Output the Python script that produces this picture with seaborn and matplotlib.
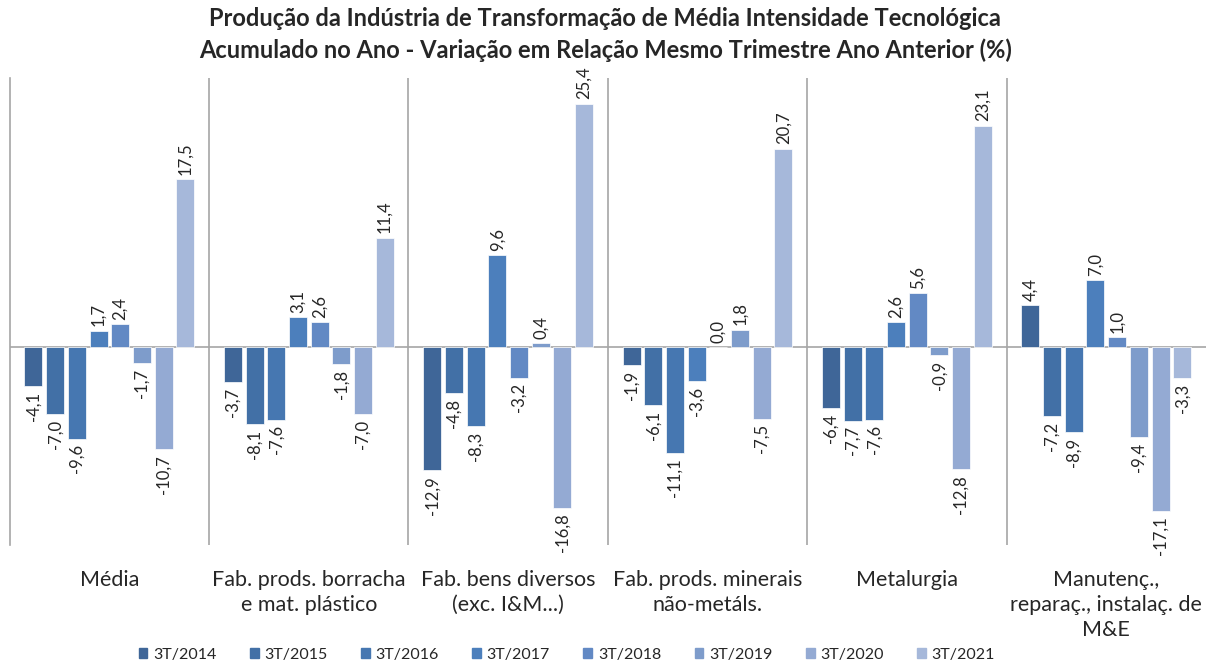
import numpy as np
import pandas as pd
import seaborn as sns
import matplotlib.pyplot as plt

# Data
categories = ["Média",
              "Fab. prods. borracha\ne mat. plástico",
              "Fab. bens diversos\n(exc. I&M...)",
              "Fab. prods. minerais\nnão-metáls.",
              "Metalurgia",
              "Manutenç.,\nreparaç., instalaç. de\nM&E"]
periods = ["3T/2014", "3T/2015", "3T/2016", "3T/2017",
           "3T/2018", "3T/2019", "3T/2020", "3T/2021"]

v_2014 = [-4.1, -3.7, -12.9, -1.9, -6.4, 4.4]
v_2015 = [-7.0, -8.1, -4.8, -6.1, -7.7, -7.2]
v_2016 = [-9.6, -7.6, -8.3, -11.1, -7.6, -8.9]
v_2017 = [1.7, 3.1, 9.6, -3.6, 2.6, 7.0]
v_2018 = [2.4, 2.6, -3.2, 0.0, 5.6, 1.0]
v_2019 = [-1.7, -1.8, 0.4, 1.8, -0.9, -9.4]
v_2020 = [-10.7, -7.0, -16.8, -7.5, -12.8, -17.1]
v_2021 = [17.5, 11.4, 25.4, 20.7, 23.1, -3.3]

series = [v_2014, v_2015, v_2016, v_2017, v_2018, v_2019, v_2020, v_2021]

colors = ['#3F6698', '#4270A6', '#4677B1', '#4C7FBC',
          '#6289C4', '#7E9CCB', '#94AAD3', '#A6B8DA']

rows = []
for p, vals in zip(periods, series):
    for c, v in zip(categories, vals):
        rows.append({'Categoria': c, 'Periodo': p, 'Valor': v})
df = pd.DataFrame(rows)

# Figure
sns.set_style("white")
plt.rcParams['font.family'] = ['Lato', 'DejaVu Sans']

fig = plt.figure(figsize=(12.06, 6.64), dpi=100)
ax = fig.add_axes([0.008, 0.179, 0.992, 0.704])

sns.barplot(data=df, x='Categoria', y='Valor', hue='Periodo',
            order=categories, hue_order=periods, palette=colors,
            saturation=1, width=0.87, gap=0.17, edgecolor='white',
            linewidth=0.5, errorbar=None, legend=False, ax=ax)

ax.set_ylim(-20.7, 28.1)
ax.set_xlim(-0.5, len(categories) - 0.5)

# data labels
for cont in ax.containers:
    for bar in cont:
        h = bar.get_height()
        x = bar.get_x() + bar.get_width() / 2
        txt = '{:.1f}'.format(h).replace('.', ',')
        if h >= 0:
            ax.annotate(txt, (x, h), xytext=(0, 3), textcoords='offset points',
                        rotation=90, ha='center', va='bottom', fontsize=12)
        else:
            ax.annotate(txt, (x, h), xytext=(0, -4), textcoords='offset points',
                        rotation=90, ha='center', va='top', fontsize=12)

# axes styling
ax.axhline(0, color='#A6A6A6', lw=1.2, zorder=0)
for xb in np.arange(0.5, len(categories) - 0.5, 1):
    ax.axvline(xb, color='#A6A6A6', lw=1.2, zorder=0)
for s in ['top', 'right', 'bottom']:
    ax.spines[s].set_visible(False)
ax.spines['left'].set_color('#A6A6A6')
ax.spines['left'].set_linewidth(1.2)
ax.set_yticks([])
ax.set_xlabel('')
ax.set_ylabel('')
ax.tick_params(axis='x', length=0, pad=18, labelsize=15.5)
for lbl in ax.get_xticklabels():
    lbl.set_linespacing(1.3)
    lbl.set_va('top')

# legend with small square markers
handles = [plt.Rectangle((0, 0), 1, 1, color=c) for c in colors]
fig.legend(handles, periods, loc='center', bbox_to_anchor=(0.47, 0.014),
           ncol=8, frameon=False, fontsize=11.5, handlelength=0.55,
           handleheight=0.55, handletextpad=0.35, columnspacing=2.1)

fig.suptitle("Produção da Indústria de Transformação de Média Intensidade Tecnológica\n"
             "Acumulado no Ano - Variação em Relação Mesmo Trimestre Ano Anterior (%)",
             x=0.502, y=0.99, fontsize=17, fontweight='bold', linespacing=1.45)

fig.savefig('out.png', dpi=100)
